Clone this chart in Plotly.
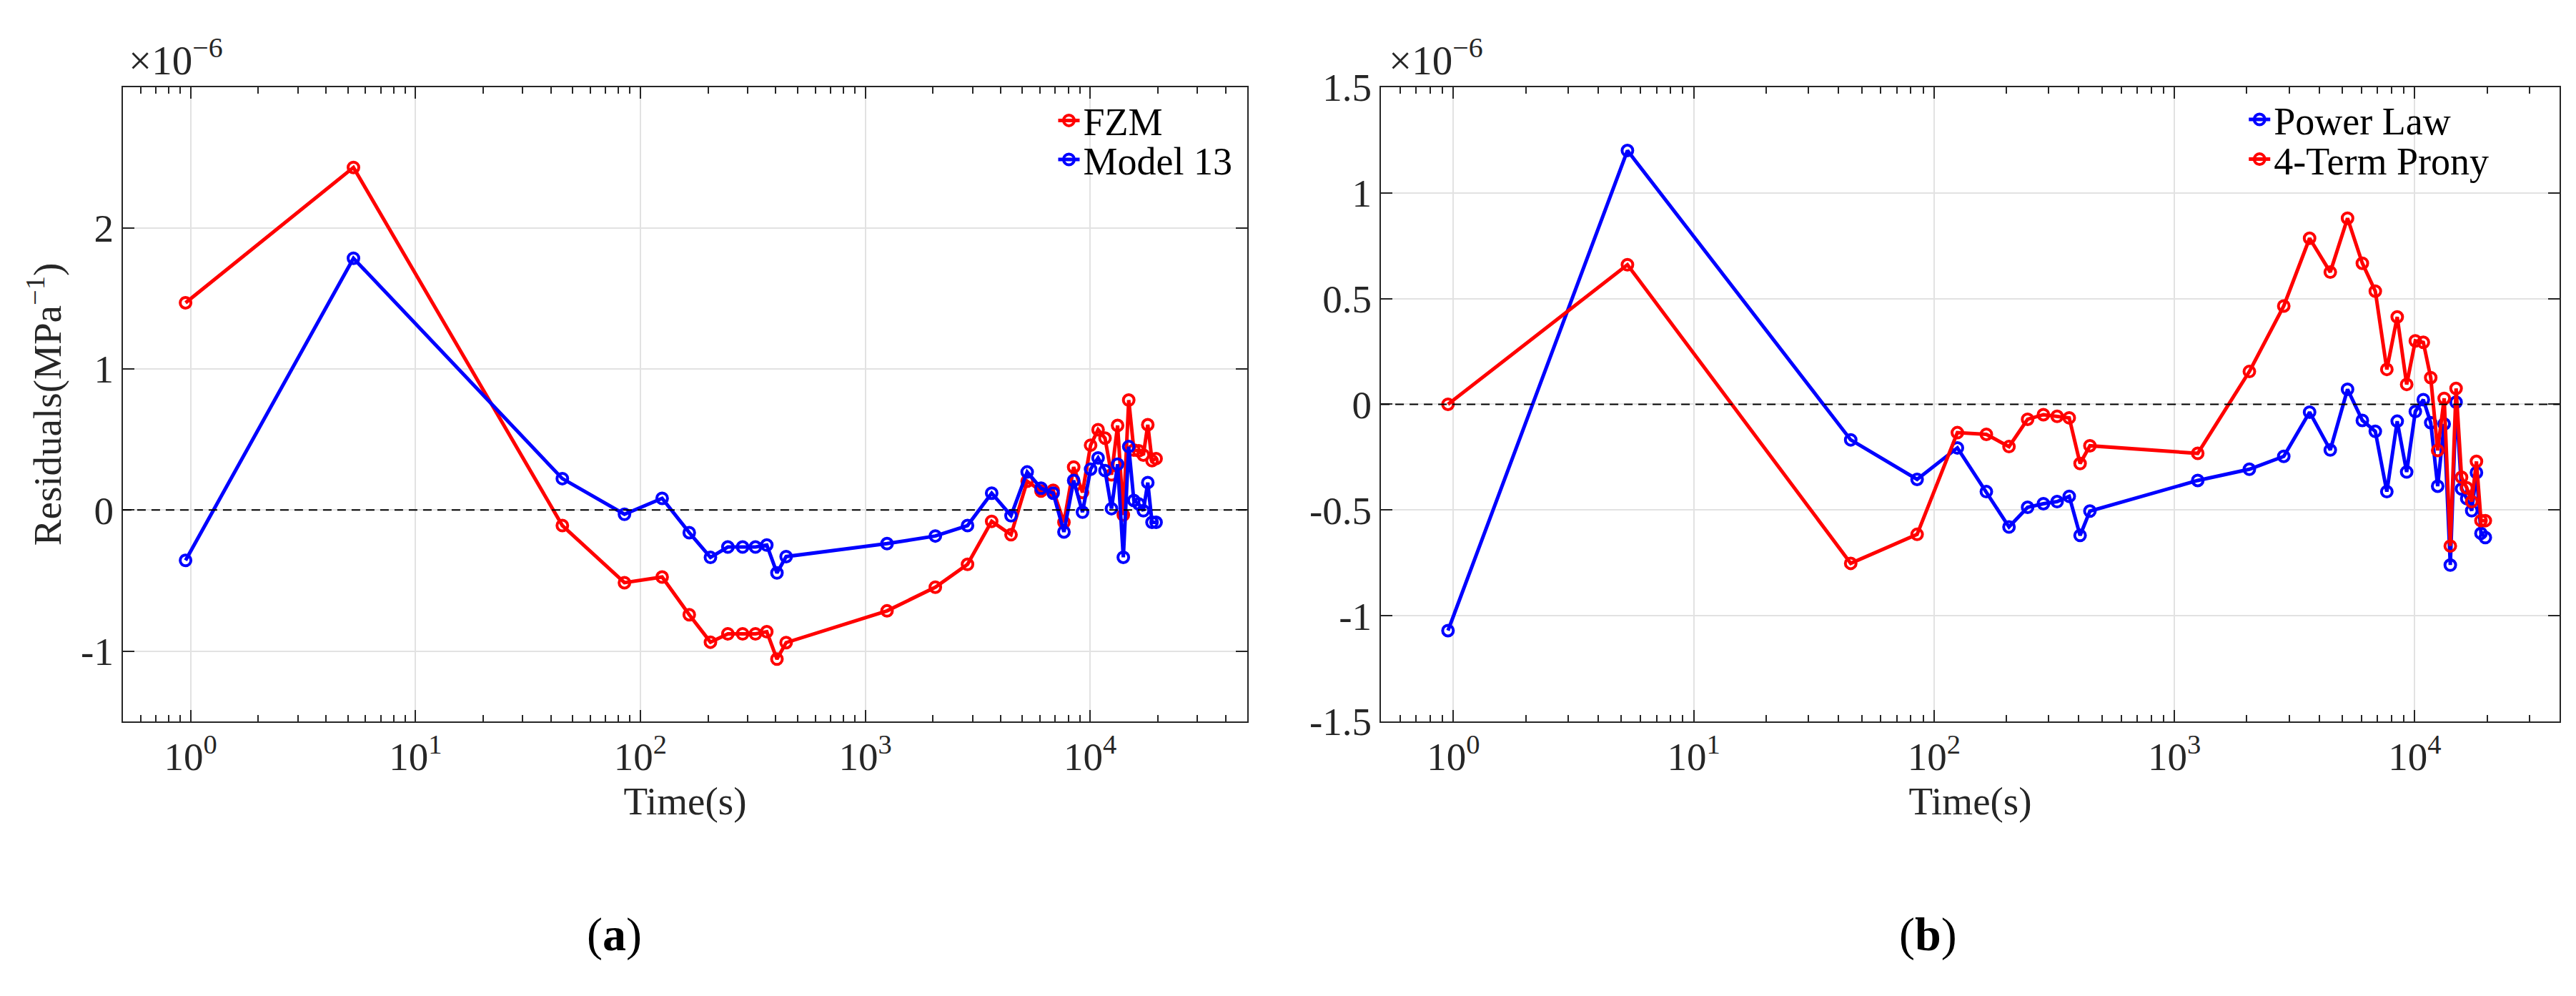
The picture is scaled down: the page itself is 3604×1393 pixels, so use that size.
import plotly.graph_objects as go

# sample times (s), shared by both panels
time_s = [0.95, 5.3, 45, 85, 125, 165, 205, 245, 285, 325, 365, 405, 445,
          1250, 2050, 2850, 3650, 4450, 5250, 6050, 6850, 7650, 8450, 9250,
          10050, 10850, 11650, 12450, 13250, 14050, 14850, 15650, 16450,
          17250, 18050, 18850, 19650]

# residuals in units of 1e-6 MPa^-1
fzm = [1.47, 2.43, -0.11, -0.515, -0.475, -0.742, -0.937, -0.878, -0.878, -0.878,
       -0.863, -1.057, -0.94, -0.715, -0.547, -0.385, -0.08, -0.175, 0.205, 0.135,
       0.14, -0.087, 0.305, 0.125, 0.46, 0.57, 0.51, 0.25, 0.6, -0.035, 0.78,
       0.425, 0.42, 0.39, 0.605, 0.35, 0.365]
model13 = [-0.357, 1.786, 0.223, -0.03, 0.083, -0.16, -0.336, -0.262, -0.262, -0.262,
           -0.248, -0.446, -0.33, -0.238, -0.184, -0.11, 0.12, -0.04, 0.27, 0.155,
           0.12, -0.155, 0.21, -0.015, 0.29, 0.37, 0.28, 0.01, 0.325, -0.335, 0.45,
           0.068, 0.044, -0.005, 0.195, -0.087, -0.087]
power_law = [-1.07, 1.2, -0.168, -0.355, -0.206, -0.413, -0.58, -0.487, -0.47, -0.46,
             -0.435, -0.62, -0.505, -0.36, -0.307, -0.246, -0.037, -0.216, 0.071, -0.076,
             -0.128, -0.413, -0.08, -0.32, -0.034, 0.022, -0.087, -0.387, -0.093, -0.76,
             0.01, -0.4, -0.446, -0.503, -0.323, -0.61, -0.63]
prony4 = [0.0, 0.66, -0.752, -0.615, -0.134, -0.142, -0.2, -0.071, -0.049, -0.057,
          -0.064, -0.28, -0.196, -0.232, 0.155, 0.465, 0.785, 0.625, 0.88, 0.667,
          0.535, 0.165, 0.413, 0.094, 0.3, 0.293, 0.126, -0.218, 0.028, -0.67,
          0.075, -0.345, -0.395, -0.46, -0.27, -0.55, -0.55]

xtick_vals = [1, 10, 100, 1000, 10000]
xtick_text = ["10<sup>0</sup>", "10<sup>1</sup>", "10<sup>2</sup>", "10<sup>3</sup>", "10<sup>4</sup>"]
ytick_a = [-1, 0, 1, 2]
ytick_b = [-1.5, -1, -0.5, 0, 0.5, 1, 1.5]

FONT = "Liberation Serif"
INK = "#262626"
RED = "#ff0000"
BLUE = "#0000ff"

fig = go.Figure()


def add_series(x, y, name, color, xa, ya, leg):
    fig.add_trace(go.Scatter(
        x=x, y=y, name=name, mode="lines+markers",
        line=dict(color=color, width=5),
        marker=dict(symbol="circle-open", size=15, color=color, line=dict(width=4, color=color)),
        xaxis=xa, yaxis=ya, legend=leg))


# panel (a)
add_series(time_s, fzm, "FZM", RED, "x", "y", "legend")
add_series(time_s, model13, "Model 13", BLUE, "x", "y", "legend2")
# panel (b)
add_series(time_s, power_law, "Power Law", BLUE, "x2", "y2", "legend3")
add_series(time_s, prony4, "4-Term Prony", RED, "x2", "y2", "legend4")

tickfont = dict(family=FONT, size=55, color=INK)
xcommon = dict(
    type="log", showline=True, linecolor=INK, linewidth=2, mirror="ticks",
    ticks="inside", ticklen=16, tickwidth=2, tickcolor=INK,
    showgrid=True, gridcolor="#e2e2e2", gridwidth=2, zeroline=False,
    tickmode="array", tickvals=xtick_vals, ticktext=xtick_text, tickfont=tickfont,
    minor=dict(ticks="inside", dtick="D1", ticklen=9, tickwidth=2, tickcolor=INK, showgrid=False),
    title=dict(text="Time(s)", font=dict(family=FONT, size=55, color=INK), standoff=12),
)
ycommon = dict(
    showline=True, linecolor=INK, linewidth=2, mirror="ticks",
    ticks="inside", ticklen=16, tickwidth=2, tickcolor=INK,
    showgrid=True, gridcolor="#e2e2e2", gridwidth=2, zeroline=False,
    tickmode="array", tickfont=tickfont,
)


def legend_at(x, y):
    return dict(x=x, y=y, xanchor="left", yanchor="middle",
                bgcolor="rgba(0,0,0,0)", borderwidth=0,
                font=dict(family=FONT, size=54, color="black"), itemwidth=30)


fig.update_layout(
    width=3604, height=1393,
    margin=dict(l=0, r=0, t=0, b=0),
    paper_bgcolor="white", plot_bgcolor="white",
    font=dict(family=FONT, color=INK),
    xaxis=dict(xcommon, domain=[0.0477, 0.4842], range=[-0.30103, 4.69897], anchor="y"),
    yaxis=dict(ycommon, domain=[0.2649, 0.9311], range=[-1.5, 3], anchor="x",
               tickvals=ytick_a, ticktext=[str(v) for v in ytick_a],
               title=dict(text="Residuals(MPa<sup>\u22121</sup>)",
                          font=dict(family=FONT, size=55, color=INK), standoff=10)),
    xaxis2=dict(xcommon, domain=[0.5361, 0.9936], range=[-0.30103, 4.60206], anchor="y2"),
    yaxis2=dict(ycommon, domain=[0.2649, 0.9311], range=[-1.5, 1.5], anchor="x2",
                tickvals=ytick_b, ticktext=[str(v) for v in ytick_b]),
    legend=legend_at(0.4094, 0.8958),
    legend2=legend_at(0.4094, 0.8548),
    legend3=legend_at(0.8716, 0.8968),
    legend4=legend_at(0.8716, 0.8551),
    showlegend=True,
)

# dashed zero reference lines
for xr, yr in (("x domain", "y"), ("x2 domain", "y2")):
    fig.add_shape(type="line", xref=xr, yref=yr, x0=0, x1=1, y0=0, y1=0,
                  line=dict(color="black", width=2, dash="12px,8px"), layer="above")

# exponent multipliers and panel letters
for xp in (0.0494, 0.5386):
    fig.add_annotation(x=xp, y=0.934, xref="paper", yref="paper", xanchor="left", yanchor="bottom",
                       text="\u00d710<sup>\u22126</sup>", showarrow=False,
                       font=dict(family=FONT, size=57, color=INK))
for xp, letter in ((0.2386, "a"), (0.7486, "b")):
    fig.add_annotation(x=xp, y=0.0416, xref="paper", yref="paper", xanchor="center", yanchor="middle",
                       text="(<b>" + letter + "</b>)", showarrow=False,
                       font=dict(family=FONT, size=66, color="black"))

fig.write_html("out.html", config={"displayModeBar": False},
               post_script="document.body.style.margin='0px';")
